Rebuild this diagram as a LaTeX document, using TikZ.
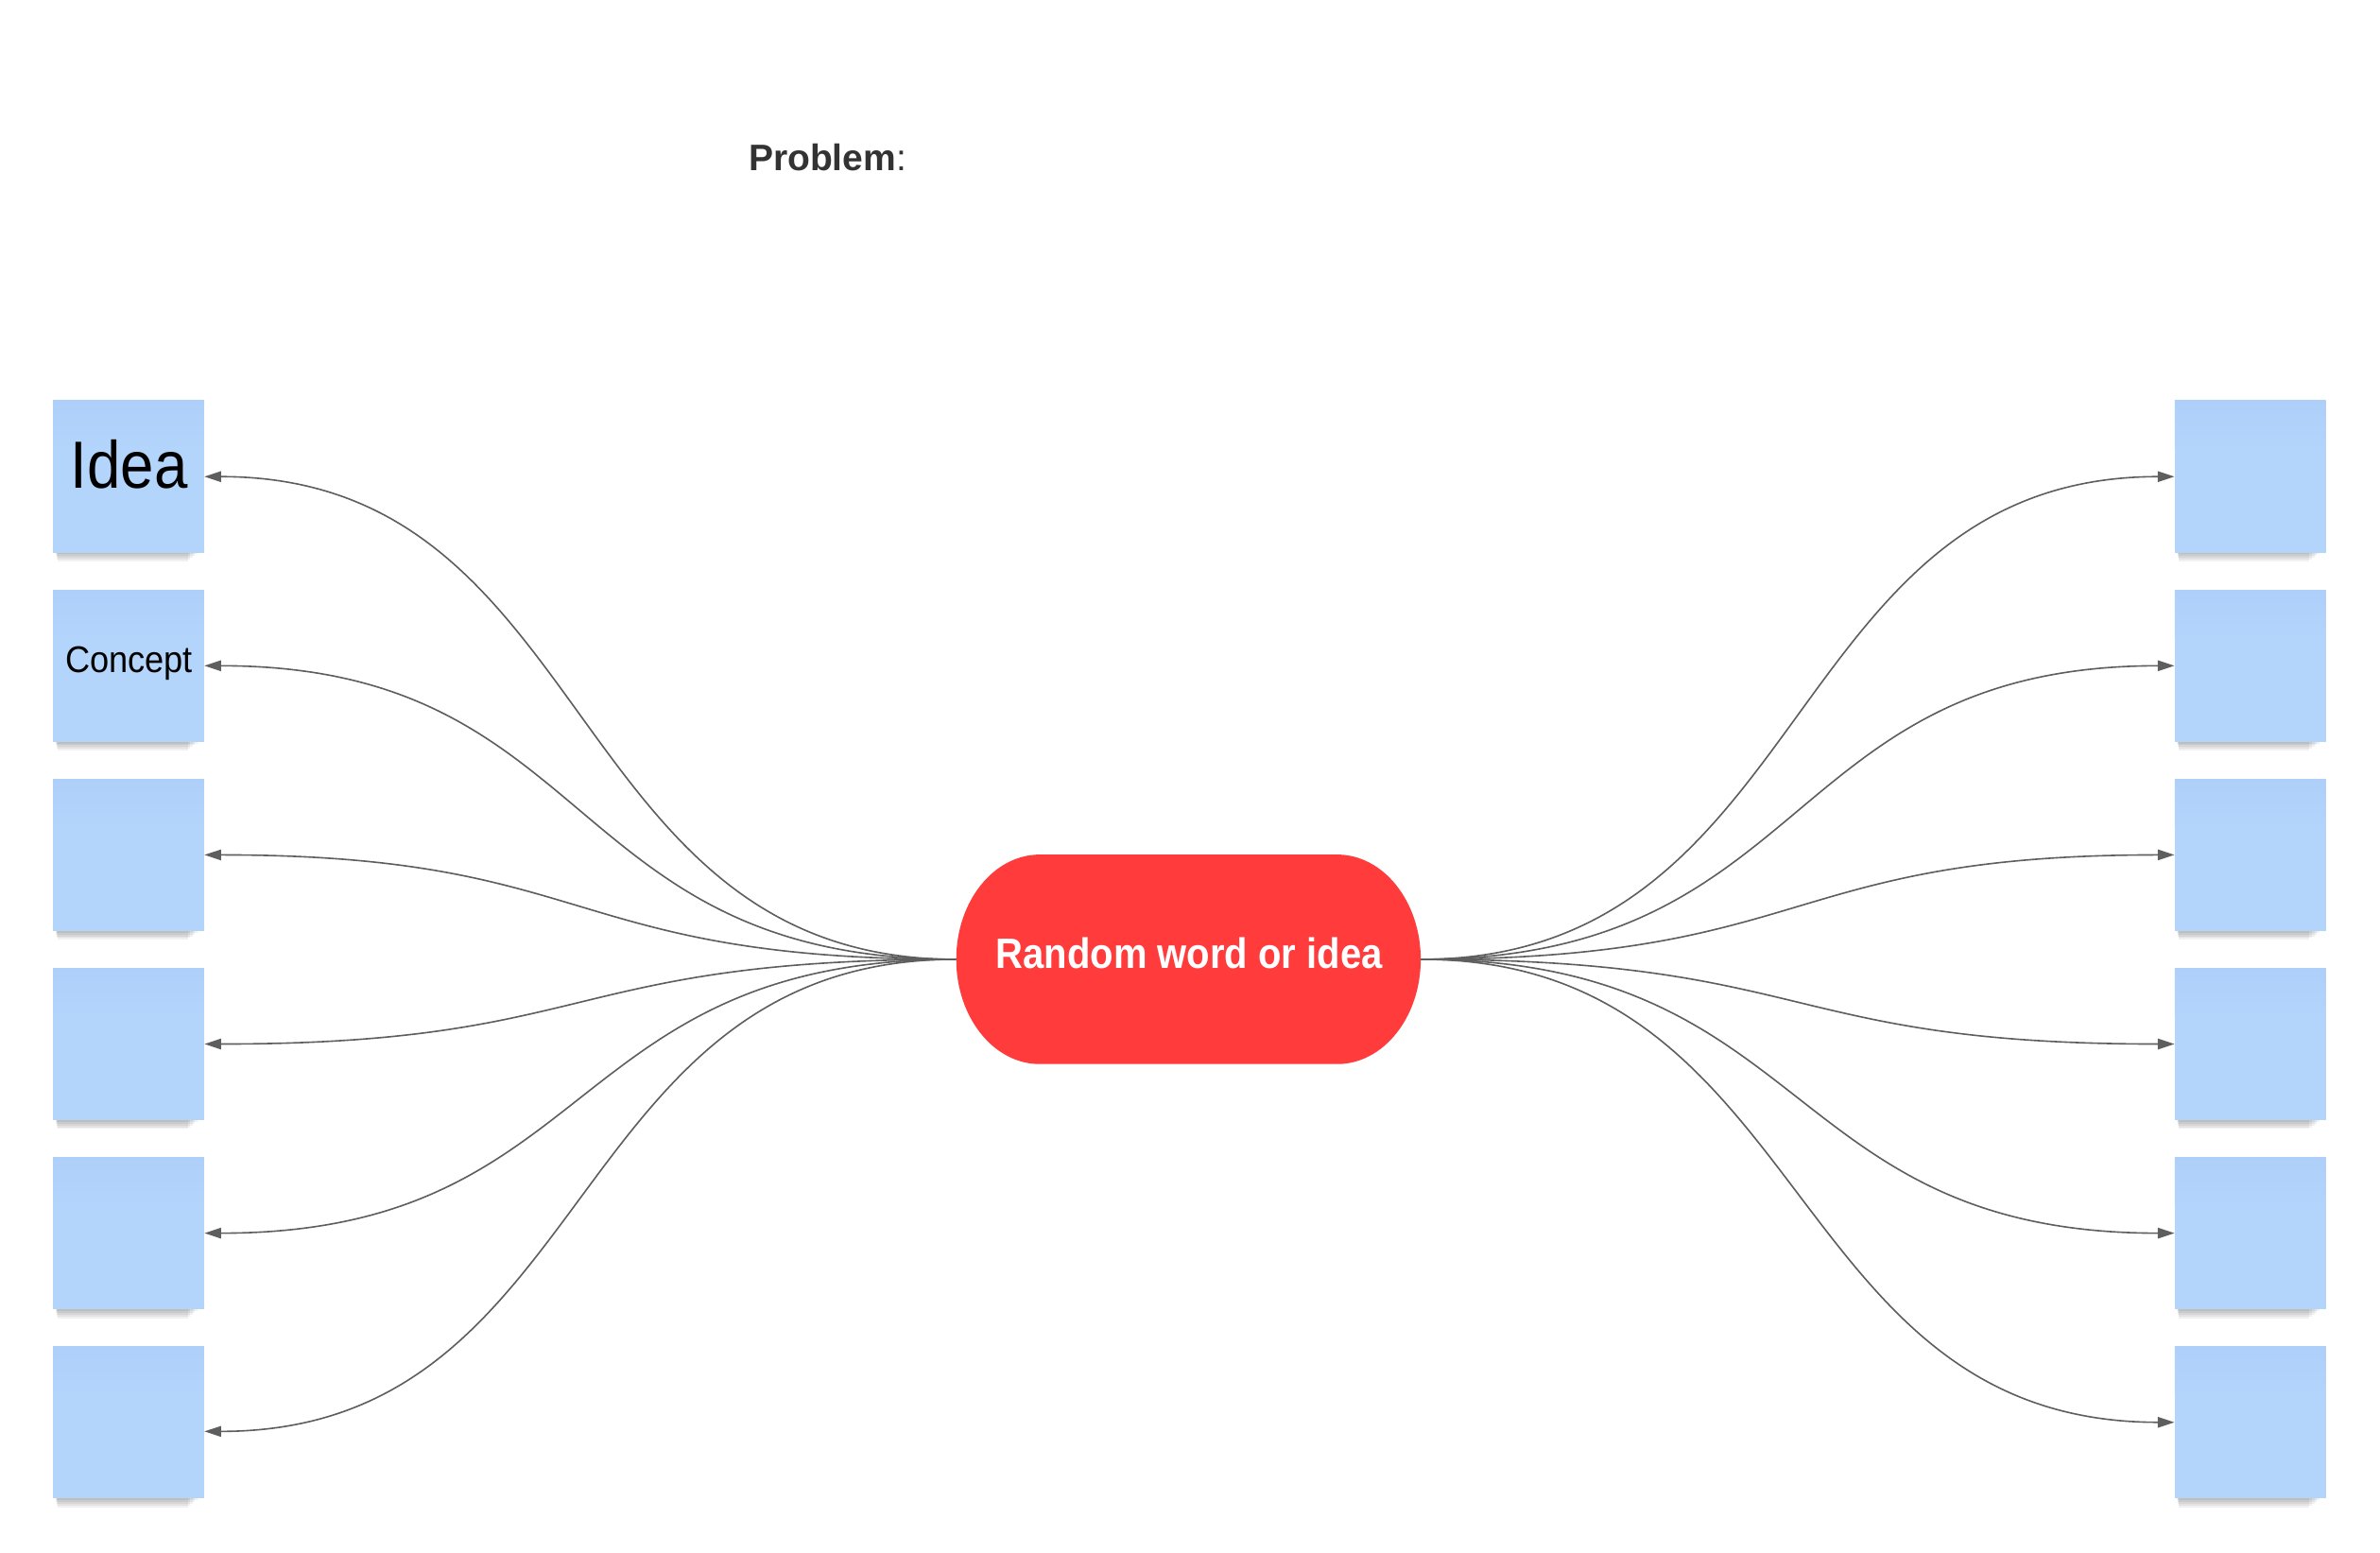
\documentclass[tikz,border=0pt]{standalone}
\usepackage{fontspec}
\setmainfont{Liberation Sans}
\usetikzlibrary{arrows.meta}
\definecolor{notefill}{HTML}{B3D5FC}
\definecolor{notetop}{HTML}{AECFF9}
\definecolor{hubred}{HTML}{FF3B3C}
\definecolor{linkgray}{HTML}{5E5E5E}
\definecolor{probtext}{HTML}{333333}
\tikzset{
  notebox/.style={rectangle, draw=none, fill=none, inner sep=0pt, minimum width=99.5pt, minimum height=100pt},
  link/.style={draw=linkgray, line width=1pt, -{Triangle[length=11pt,width=7pt]}},
  labeltext/.style={inner sep=0pt, text=black}
}
\newcommand{\stickynote}[3]{% name, cx, cy
  \foreach \s in {1,...,5}{
    \fill[black,opacity=0.055] (#2-48.5+\s*0.3,#3+49) rectangle (#2+47-\s*1.6,#3+50+\s*1.2);
  }
  \fill[notefill] (#2-49.75,#3-50) rectangle (#2+49.75,#3+50);
  \shade[top color=notetop,bottom color=notefill] (#2-49.75,#3-50) rectangle (#2+49.75,#3-17);
  \node[notebox] (#1) at (#2,#3) {};
}
\begin{document}
\begin{tikzpicture}[x=1pt,y=-1pt]
\useasboundingbox (0,0) rectangle (1568,1023);
\fill[white] (0,0) rectangle (1568,1023);

% title
\node[anchor=west, inner sep=0pt, text=probtext] (problem) at (493,104)
  {\fontsize{24.3}{29}\selectfont\textbf{Problem}:};

% sticky notes
\stickynote{L1}{84.75}{314}
\stickynote{L2}{84.75}{438.6}
\stickynote{L3}{84.75}{563.2}
\stickynote{L4}{84.75}{687.8}
\stickynote{L5}{84.75}{812.4}
\stickynote{L6}{84.75}{937}
\stickynote{R1}{1482.5}{314}
\stickynote{R2}{1482.5}{438.6}
\stickynote{R3}{1482.5}{563.2}
\stickynote{R4}{1482.5}{687.8}
\stickynote{R5}{1482.5}{812.4}
\stickynote{R6}{1482.5}{937}

\node[labeltext] (idealabel) at (85,306)
  {\scalebox{0.9}[1]{\fontsize{44}{50}\selectfont Idea}};
\node[labeltext] (conceptlabel) at (85,437)
  {\scalebox{0.92}[1]{\fontsize{24.5}{30}\selectfont Concept}};

% hub
\fill[hubred] (685,563) -- (881,563)
  .. controls (911.4,563) and (936,593.9) .. (936,632)
  .. controls (936,670.1) and (911.4,701) .. (881,701)
  -- (685,701)
  .. controls (654.6,701) and (630,670.1) .. (630,632)
  .. controls (630,593.9) and (654.6,563) .. (685,563) -- cycle;
\node[rectangle, inner sep=0pt, minimum width=306pt, minimum height=138pt] (hub) at (783,632) {};
\node[inner sep=0pt, text=white] (hublabel) at (783.5,628)
  {\scalebox{0.89}[1]{\fontsize{28}{34}\selectfont\bfseries Random word or idea}};

% connectors left
\foreach \n in {L1,L2,L3,L4,L5}{
  \draw[link] (hub.west) .. controls +(-260,0) and +(260,0) .. (\n.east);
}
\draw[link] (hub.west) .. controls +(-260,0) and +(260,0) .. ([yshift=-6pt]L6.east);
% connectors right
\foreach \n in {R1,R2,R3,R4,R5,R6}{
  \draw[link] (hub.east) .. controls +(260,0) and +(-260,0) .. (\n.west);
}
\end{tikzpicture}
\end{document}
